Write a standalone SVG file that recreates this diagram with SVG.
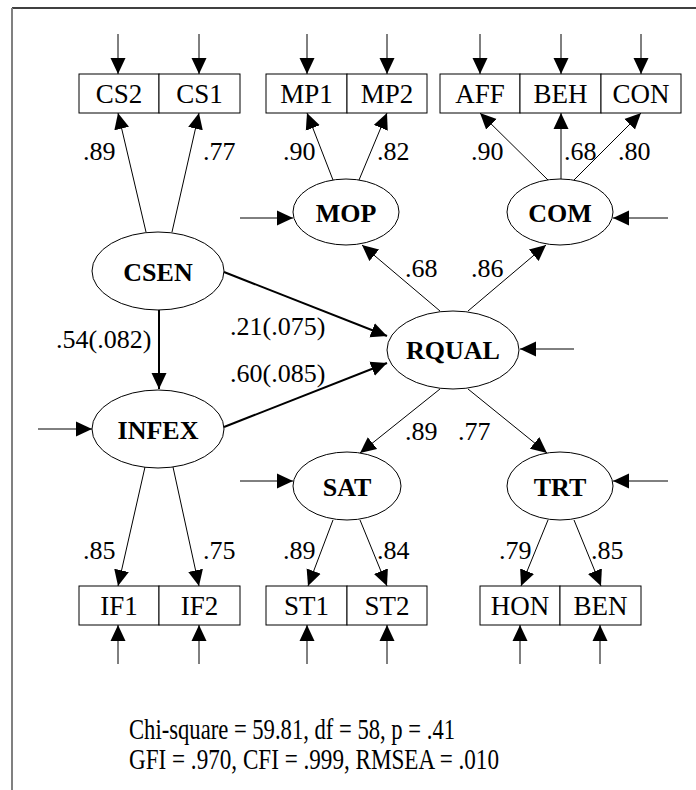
<svg xmlns="http://www.w3.org/2000/svg" width="696" height="790" viewBox="0 0 696 790" font-family="'Liberation Serif', 'Times New Roman', serif">
<style>
  text { font-family: "Liberation Serif", "Times New Roman", serif; fill: #000; }
  .box { fill: #fff; stroke: #000; stroke-width: 1; }
  .lat { fill: #fff; stroke: #000; stroke-width: 1; }
  .bt { font-size: 27px; text-anchor: middle; }
  .lt { font-size: 26px; font-weight: bold; text-anchor: middle; }
  .lab { font-size: 26px; }
  .foot { font-size: 29px; }
  .c { stroke: #000; stroke-width: 1; fill: none; marker-end: url(#ah); }
  .s { stroke: #000; stroke-width: 2; fill: none; marker-end: url(#ah); }
</style>
<defs>
  <marker id="ah" markerUnits="userSpaceOnUse" markerWidth="16" markerHeight="16" refX="16" refY="7.5" orient="auto" viewBox="0 0 16 15">
    <path d="M0,0 L16,7.5 L0,15 z" fill="#000"/>
  </marker>
</defs>
<rect x="0" y="0" width="696" height="790" fill="#fff"/>
<g id="frame">
  <line x1="12" y1="8" x2="696" y2="8" stroke="#000" stroke-width="1.5"/>
  <line x1="12" y1="8" x2="12" y2="790" stroke="#808080" stroke-width="2"/>
</g>
<g id="connectors">
  <line class="c" x1="118" y1="34" x2="118" y2="74"/>
  <line class="c" x1="199" y1="34" x2="199" y2="74"/>
  <line class="c" x1="307" y1="34" x2="307" y2="74"/>
  <line class="c" x1="387" y1="34" x2="387" y2="74"/>
  <line class="c" x1="480" y1="34" x2="480" y2="74"/>
  <line class="c" x1="561" y1="34" x2="561" y2="74"/>
  <line class="c" x1="641" y1="34" x2="641" y2="74"/>
  <line class="c" x1="118" y1="664" x2="118" y2="625"/>
  <line class="c" x1="199" y1="664" x2="199" y2="625"/>
  <line class="c" x1="307" y1="664" x2="307" y2="625"/>
  <line class="c" x1="387" y1="664" x2="387" y2="625"/>
  <line class="c" x1="520" y1="664" x2="520" y2="625"/>
  <line class="c" x1="600" y1="664" x2="600" y2="625"/>
  <line class="c" x1="240" y1="218" x2="293" y2="218"/>
  <line class="c" x1="668" y1="218" x2="613" y2="218"/>
  <line class="c" x1="38" y1="429" x2="92" y2="429"/>
  <line class="c" x1="574" y1="349" x2="520" y2="349"/>
  <line class="c" x1="240" y1="481" x2="293" y2="481"/>
  <line class="c" x1="668" y1="481" x2="613" y2="481"/>
  <line class="c" x1="146" y1="232" x2="118" y2="113"/>
  <line class="c" x1="172" y1="232" x2="199" y2="113"/>
  <line class="c" x1="333" y1="180" x2="307" y2="113"/>
  <line class="c" x1="359" y1="180" x2="387" y2="113"/>
  <line class="c" x1="548" y1="180" x2="480" y2="113"/>
  <line class="c" x1="561" y1="179" x2="561" y2="113"/>
  <line class="c" x1="574" y1="180" x2="641" y2="113"/>
  <line class="c" x1="145" y1="467" x2="118" y2="586"/>
  <line class="c" x1="173" y1="467" x2="199" y2="586"/>
  <line class="c" x1="333" y1="520" x2="308" y2="586"/>
  <line class="c" x1="360" y1="520" x2="387" y2="586"/>
  <line class="c" x1="548" y1="520" x2="521" y2="586"/>
  <line class="c" x1="574" y1="520" x2="601" y2="586"/>
  <line class="s" x1="159" y1="310" x2="159" y2="389"/>
  <line class="s" x1="224" y1="272" x2="387" y2="336"/>
  <line class="s" x1="224" y1="427" x2="387" y2="363"/>
  <line class="c" x1="440" y1="311" x2="362" y2="245"/>
  <line class="c" x1="468" y1="311" x2="546" y2="245"/>
  <line class="c" x1="440" y1="389" x2="360" y2="453"/>
  <line class="c" x1="468" y1="389" x2="547" y2="453"/>
</g>
<g id="labels">
  <text class="lab" x="83" y="160">.89</text>
  <text class="lab" x="203" y="160">.77</text>
  <text class="lab" x="283" y="160">.90</text>
  <text class="lab" x="377" y="160">.82</text>
  <text class="lab" x="471" y="160">.90</text>
  <text class="lab" x="564" y="160">.68</text>
  <text class="lab" x="618" y="160">.80</text>
  <text class="lab" x="405" y="277">.68</text>
  <text class="lab" x="471" y="277">.86</text>
  <text class="lab" x="230" y="335">.21(.075)</text>
  <text class="lab" x="230" y="382">.60(.085)</text>
  <text class="lab" x="56" y="348">.54(.082)</text>
  <text class="lab" x="405" y="440">.89</text>
  <text class="lab" x="458" y="440">.77</text>
  <text class="lab" x="83" y="559">.85</text>
  <text class="lab" x="203" y="559">.75</text>
  <text class="lab" x="283" y="559">.89</text>
  <text class="lab" x="377" y="559">.84</text>
  <text class="lab" x="499" y="559">.79</text>
  <text class="lab" x="591" y="559">.85</text>
</g>
<g id="CS2"><rect class="box" x="79" y="74" width="80" height="39"/><text class="bt" x="119" y="103">CS2</text></g>
<g id="CS1"><rect class="box" x="159" y="74" width="81" height="39"/><text class="bt" x="199.5" y="103">CS1</text></g>
<g id="MP1"><rect class="box" x="266" y="74" width="81" height="39"/><text class="bt" x="306.5" y="103">MP1</text></g>
<g id="MP2"><rect class="box" x="347" y="74" width="80" height="39"/><text class="bt" x="387" y="103">MP2</text></g>
<g id="AFF"><rect class="box" x="440" y="74" width="80" height="39"/><text class="bt" x="480" y="103">AFF</text></g>
<g id="BEH"><rect class="box" x="520" y="74" width="81" height="39"/><text class="bt" x="560.5" y="103">BEH</text></g>
<g id="CON"><rect class="box" x="601" y="74" width="80" height="39"/><text class="bt" x="641" y="103">CON</text></g>
<g id="IF1"><rect class="box" x="79" y="586" width="80" height="39"/><text class="bt" x="119" y="615">IF1</text></g>
<g id="IF2"><rect class="box" x="159" y="586" width="81" height="39"/><text class="bt" x="199.5" y="615">IF2</text></g>
<g id="ST1"><rect class="box" x="266" y="586" width="81" height="39"/><text class="bt" x="306.5" y="615">ST1</text></g>
<g id="ST2"><rect class="box" x="347" y="586" width="80" height="39"/><text class="bt" x="387" y="615">ST2</text></g>
<g id="HON"><rect class="box" x="480" y="586" width="80" height="39"/><text class="bt" x="520" y="615">HON</text></g>
<g id="BEN"><rect class="box" x="560" y="586" width="81" height="39"/><text class="bt" x="600.5" y="615">BEN</text></g>
<g id="CSEN"><ellipse class="lat" cx="158" cy="271" rx="66" ry="39"/><text class="lt" x="158" y="281">CSEN</text></g>
<g id="INFEX"><ellipse class="lat" cx="158" cy="429" rx="66" ry="39"/><text class="lt" x="158" y="439">INFEX</text></g>
<g id="MOP"><ellipse class="lat" cx="346" cy="212" rx="53" ry="33"/><text class="lt" x="346" y="222">MOP</text></g>
<g id="COM"><ellipse class="lat" cx="560" cy="212" rx="53" ry="33"/><text class="lt" x="560" y="222">COM</text></g>
<g id="RQUAL"><ellipse class="lat" cx="453" cy="350" rx="66" ry="39"/><text class="lt" x="453" y="359">RQUAL</text></g>
<g id="SAT"><ellipse class="lat" cx="347" cy="486" rx="54" ry="34"/><text class="lt" x="347" y="496">SAT</text></g>
<g id="TRT"><ellipse class="lat" cx="560" cy="486" rx="53" ry="34"/><text class="lt" x="560" y="496">TRT</text></g>
<g id="fit">
  <text class="foot" x="129" y="739" textLength="326" lengthAdjust="spacingAndGlyphs">Chi-square = 59.81, df = 58, p = .41</text>
  <text class="foot" x="129" y="769" textLength="370" lengthAdjust="spacingAndGlyphs">GFI = .970, CFI = .999, RMSEA = .010</text>
</g>
</svg>
